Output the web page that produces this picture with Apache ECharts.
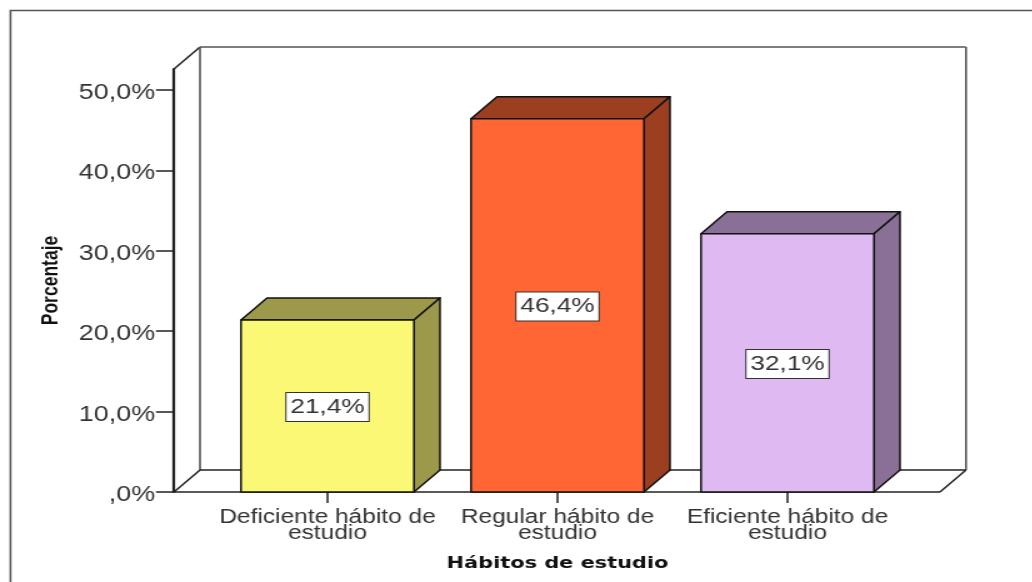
<!DOCTYPE html>
<html>
<head>
<meta charset="utf-8">
<style>
  html, body { margin: 0; padding: 0; background: #fff; overflow: hidden; }
  /* la imagen original esta estirada en horizontal */
  #chart { width: 826px; height: 582px; transform: scaleX(1.25); transform-origin: 0 0; }
</style>
<script src="https://cdn.jsdelivr.net/npm/echarts@6/dist/echarts.min.js"></script>
</head>
<body>
<div id="chart"></div>
<script>
// datos
const categories = ['Deficiente hábito de\nestudio', 'Regular hábito de\nestudio', 'Eficiente hábito de\nestudio']
const percentages = [21.4, 46.4, 32.1]
const yTicks = [0, 10, 20, 30, 40, 50]

const frontColors = ['#fbf876', '#ff6633', '#dfb9f2']
const shadeColors = ['#9c9a4a', '#9b3f20', '#8a7096']
const lineDark = '#222'
const lineGrey = '#555'
const textColor = '#333'

// profundidad del efecto 3D
const depthX = 20.8
const depthY = 22
const padLeft = 30.8
const padRight = 30
const barRatio = 0.752

const fmtPct = v => (v === 0 ? ',0%' : v.toFixed(1).replace('.', ',') + '%')

const line = (x1, y1, x2, y2, stroke, width) => ({
  type: 'line',
  shape: { x1, y1, x2, y2 },
  style: { stroke, lineWidth: width }
})

// paredes y suelo
function renderWalls(params) {
  const c = params.coordSys
  const l = c.x - padLeft
  const r = c.x + c.width + padRight
  const t = c.y
  const b = c.y + c.height
  return {
    type: 'group',
    children: [
      line(l, t, l + depthX, t - depthY, lineDark, 1.5),
      line(l + depthX, t - depthY, l + depthX, b - depthY, lineGrey, 1.6),
      line(l + depthX, t - depthY, r + depthX, t - depthY, lineGrey, 1.6),
      line(r + depthX, t - depthY, r + depthX, b - depthY, lineGrey, 1.6),
      line(l + depthX, b - depthY, r + depthX, b - depthY, lineDark, 1.5),
      line(l, b, l + depthX, b - depthY, lineDark, 1.5),
      line(r, b, r + depthX, b - depthY, lineDark, 1.5),
      line(l, b, r, b, lineDark, 1.5)
    ]
  }
}

function renderBar(params, api) {
  const i = params.dataIndex
  const top = api.coord([api.value(0), api.value(1)])
  const base = api.coord([api.value(0), 0])
  const w = api.size([1, 0])[0] * barRatio
  const x0 = top[0] - w / 2
  const x1 = top[0] + w / 2
  const y0 = top[1]
  const y1 = base[1]
  const edge = { stroke: '#111', lineWidth: 1.5, lineJoin: 'round' }
  return {
    type: 'group',
    children: [
      {
        type: 'polygon',
        shape: { points: [[x0, y0], [x1, y0], [x1 + depthX, y0 - depthY], [x0 + depthX, y0 - depthY]] },
        style: { fill: shadeColors[i], ...edge }
      },
      {
        type: 'polygon',
        shape: { points: [[x1, y0], [x1 + depthX, y0 - depthY], [x1 + depthX, y1 - depthY], [x1, y1]] },
        style: { fill: shadeColors[i], ...edge }
      },
      {
        type: 'rect',
        shape: { x: x0, y: y0, width: w, height: y1 - y0 },
        style: { fill: frontColors[i], ...edge }
      },
      {
        type: 'text',
        x: top[0],
        y: (y0 + y1) / 2 + 1,
        style: {
          text: fmtPct(api.value(1)),
          fill: textColor,
          font: '21px "Liberation Sans"',
          align: 'center',
          verticalAlign: 'middle',
          backgroundColor: '#fff',
          borderColor: '#333',
          borderWidth: 1,
          padding: [4, 3, 3, 3]
        }
      }
    ]
  }
}

const chart = echarts.init(document.getElementById('chart'), null, { renderer: 'canvas' })
chart.setOption({
  animation: false,
  backgroundColor: '#fff',
  grid: { left: 170, right: 104, top: 69, bottom: 90 },
  xAxis: {
    type: 'category',
    data: categories,
    name: 'Hábitos de estudio',
    nameLocation: 'middle',
    nameGap: 63,
    nameTextStyle: { fontFamily: 'DejaVu Sans', fontWeight: 'bold', fontSize: 16.7, color: '#111' },
    axisLine: { show: false },
    axisTick: { show: true, alignWithLabel: true, length: 11, lineStyle: { color: lineDark, width: 1.5 } },
    axisLabel: {
      interval: 0,
      margin: 18,
      fontFamily: 'Liberation Sans',
      fontSize: 19.6,
      lineHeight: 16,
      color: textColor
    }
  },
  yAxis: {
    type: 'value',
    min: 0,
    max: 52.6,
    offset: padLeft,
    name: 'Porcentaje',
    nameLocation: 'middle',
    nameGap: 89,
    nameTextStyle: { fontFamily: 'Liberation Sans', fontWeight: 'bold', fontSize: 17.5, color: '#111' },
    splitLine: { show: false },
    axisLine: { show: true, lineStyle: { color: lineDark, width: 2.2 } },
    axisTick: { show: true, length: 14.4, customValues: yTicks, lineStyle: { color: lineDark, width: 1.5 } },
    axisLabel: {
      customValues: yTicks,
      margin: 15.2,
      fontFamily: 'Liberation Sans',
      fontSize: 21.5,
      color: textColor,
      formatter: v => '{v|' + fmtPct(v) + '}',
      rich: { v: { fontFamily: 'Liberation Sans', fontSize: 21.5, color: textColor, padding: [6, 0, 0, 0] } }
    }
  },
  graphic: [
    {
      type: 'polyline',
      shape: { points: [[8.4, 582], [8.4, 10.5], [826, 10.5]] },
      style: { stroke: lineGrey, lineWidth: 1.6, fill: 'none' }
    }
  ],
  series: [
    {
      type: 'custom',
      silent: true,
      clip: false,
      z: 1,
      data: [[0, 0]],
      renderItem: renderWalls
    },
    {
      type: 'custom',
      silent: true,
      clip: false,
      z: 2,
      encode: { x: 0, y: 1 },
      data: percentages.map((v, i) => [i, v]),
      renderItem: renderBar
    }
  ]
})
</script>
</body>
</html>
